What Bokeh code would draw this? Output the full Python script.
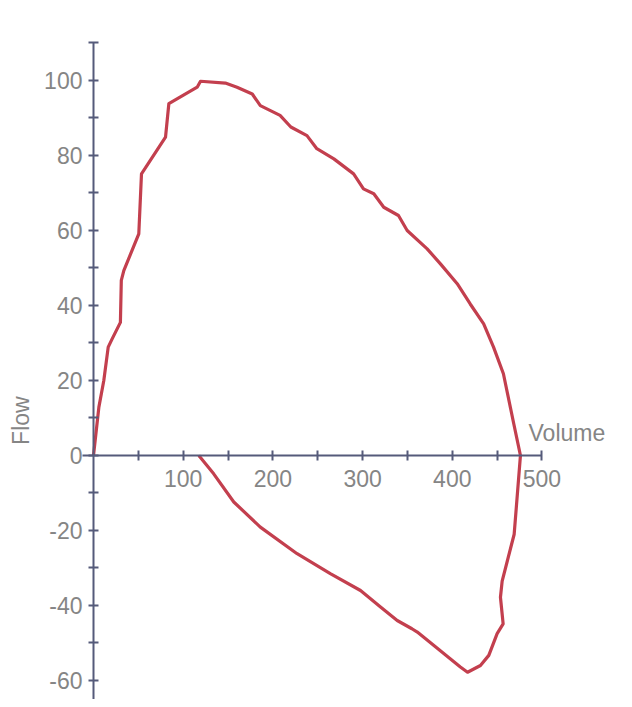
from bokeh.plotting import figure
from bokeh.models import Range1d, FixedTicker, Label, PrintfTickFormatter
from bokeh.embed import file_html
from bokeh.resources import INLINE
import math

# Flow-volume loop
volume = [0, 6, 11.5, 16.4, 20.8, 30, 31, 33.8, 50.5, 53.5, 80.3, 84, 115.6, 119.3,
          147, 160, 177, 186, 208, 220, 238, 249, 268, 290, 301, 312.5, 323.6, 340,
          349.7, 372, 386.8, 405.5, 420, 435, 446, 457, 468.6, 476, 469, 455.6, 453.7,
          456.7, 450, 440.7, 431.4, 417, 409, 361, 355, 338.6, 320, 297.7, 264, 227,
          186, 156.4, 134, 117.4]
flow = [0, 12.9, 20, 28.9, 31.1, 35.5, 46.7, 49.3, 59.1, 75.1, 84.9, 93.8, 98.2, 99.8,
        99.3, 98.2, 96.4, 93.3, 90.7, 87.6, 85.3, 81.8, 79.1, 75.1, 71.1, 69.8, 66.2, 64,
        60, 55.1, 51.1, 45.8, 40.4, 35.1, 28.9, 21.8, 8.4, 0, -21, -33.5, -37.8,
        -44.9, -47.5, -53.3, -56, -57.8, -56.4, -47.1, -46.2, -44, -40.4, -36, -31.5, -26.2,
        -19.1, -12.4, -4.9, 0]

x_major = [100, 200, 300, 400, 500]
x_minor = [50, 150, 250, 350, 450]
y_major = [-60, -40, -20, 0, 20, 40, 60, 80, 100]
y_minor = [-50, -30, -10, 10, 30, 50, 70, 90, 110]

AXIS_COLOR = "#555a7a"
TEXT_COLOR = "#858585"
CURVE_COLOR = "#c33f4e"
FONT = "Liberation Sans"

p = figure(width=624, height=699, output_backend="svg", toolbar_location=None,
           x_range=Range1d(-103.68, 592.0), y_range=Range1d(-65.07, 121.33),
           min_border=0, min_border_left=0, min_border_right=0,
           min_border_top=0, min_border_bottom=0)
p.outline_line_color = None
p.xgrid.visible = False
p.ygrid.visible = False
p.background_fill_color = "white"

p.line(volume, flow, line_color=CURVE_COLOR, line_width=3.2, line_join="round")

for ax in (p.xaxis[0], p.yaxis[0]):
    ax.fixed_location = 0
    ax.axis_line_color = AXIS_COLOR
    ax.axis_line_width = 2
    ax.major_tick_line_color = AXIS_COLOR
    ax.minor_tick_line_color = AXIS_COLOR
    ax.major_tick_line_width = 2
    ax.minor_tick_line_width = 2
    ax.major_tick_in = 5
    ax.major_tick_out = 5
    ax.minor_tick_in = 5
    ax.minor_tick_out = 5
    ax.major_label_text_color = TEXT_COLOR
    ax.major_label_text_font = FONT
    ax.major_label_text_font_size = "23px"
    ax.formatter = PrintfTickFormatter(format="%d")

p.xaxis[0].ticker = FixedTicker(ticks=x_major, minor_ticks=x_minor)
p.yaxis[0].ticker = FixedTicker(ticks=y_major, minor_ticks=y_minor)
p.xaxis[0].bounds = (-12, 500)
p.yaxis[0].bounds = (-66, 110)
p.xaxis[0].major_label_standoff = 10
p.yaxis[0].major_label_standoff = 6

p.add_layout(Label(x=485, y=6, text="Volume", text_color=TEXT_COLOR, text_font=FONT,
                   text_font_size="23px", text_align="left", text_baseline="alphabetic"))
p.add_layout(Label(x=-81, y=9.3, text="Flow", text_color=TEXT_COLOR, text_font=FONT,
                   text_font_size="23px", text_align="center", text_baseline="middle",
                   angle=math.pi / 2))

open("out.html", "w").write(file_html(p, INLINE))
